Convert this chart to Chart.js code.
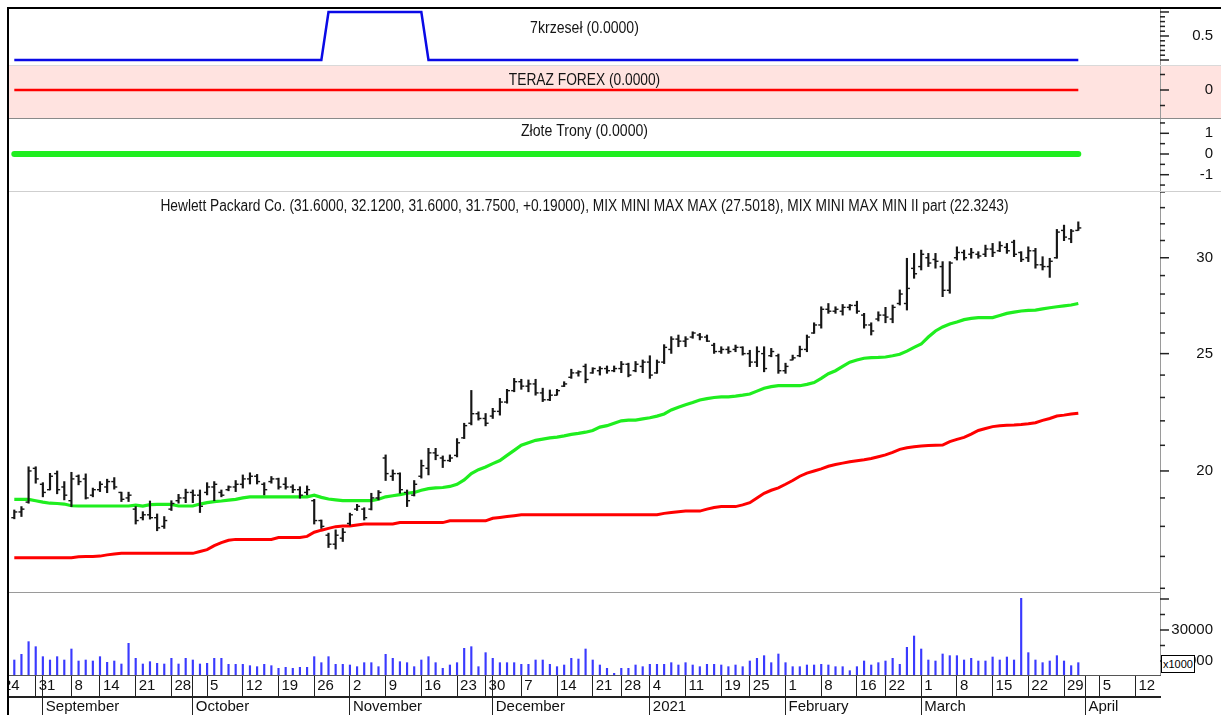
<!DOCTYPE html>
<html>
<head>
<meta charset="utf-8">
<script src="https://cdn.jsdelivr.net/npm/chart.js@4.4.1/dist/chart.umd.min.js"></script>
<style>
html,body{margin:0;padding:0;background:#fff;}
#wrap{position:relative;width:1221px;height:715px;overflow:hidden;background:#fff;font-family:"Liberation Sans",Arial,sans-serif;}
.pane{position:absolute;left:0;width:1221px;}
.pane canvas{display:block;}
.sep{position:absolute;height:1px;z-index:5;}
#pink{position:absolute;left:9px;top:65px;width:1212px;height:53px;background:#ffe3e0;}
#mask{position:absolute;left:0;top:0;width:7px;height:715px;background:#fff;z-index:6;}
#border{position:absolute;left:7px;top:7px;width:1214px;height:708px;border-top:2px solid #000;border-left:2px solid #000;box-sizing:border-box;z-index:7;pointer-events:none;}
#mult{position:absolute;left:1161px;top:655px;width:34px;height:18px;border:1px solid #000;background:#fff;font-size:11px;line-height:16px;text-align:center;box-sizing:border-box;z-index:8;color:#000;}
</style>
</head>
<body>
<div id="wrap">
  <div id="pink"></div>
  <div class="pane" style="top:8px;height:57px"><canvas id="c1" width="1221" height="57"></canvas></div>
  <div class="pane" style="top:65px;height:53px"><canvas id="c2" width="1221" height="53"></canvas></div>
  <div class="pane" style="top:118px;height:73px"><canvas id="c3" width="1221" height="73"></canvas></div>
  <div class="pane" style="top:191px;height:401px"><canvas id="c4" width="1221" height="401"></canvas></div>
  <div class="pane" style="top:592px;height:123px"><canvas id="c5" width="1221" height="123"></canvas></div>
  <div class="sep" style="left:9px;top:65px;width:1212px;background:#d9d9d9"></div>
  <div class="sep" style="left:9px;top:118px;width:1212px;background:#8a8a8a"></div>
  <div class="sep" style="left:9px;top:191px;width:1212px;background:#cfcfcf"></div>
  <div class="sep" style="left:9px;top:592px;width:1151px;background:#9a9a9a"></div>
  <div id="mult">x1000</div>
  <div id="mask"></div>
  <div id="border"></div>
</div>
<script>
// ---------------- DATA ----------------
// trading-day index k = 0 .. 149 (Aug 26 2020 .. Mar 31 2021)
const opens = [
18.3,18.5,18.85,20.1,19.5,19.3,19.9,19.4,18.9,19.8,
19.7,19.1,19.3,19.4,19.6,19.2,19.0,18.6,18.3,18.4,
18.3,18.0,18.6,18.9,19.0,19.2,19.1,19.2,19.4,19.2,
19.3,19.4,19.5,19.7,19.8,19.5,19.6,19.7,19.5,19.4,
19.3,19.2,18.9,18.2,17.7,17.4,17.6,18.1,18.6,18.6,
18.6,19.0,20.5,19.8,19.9,19.2,19.1,19.8,20.1,20.7,
20.5,20.4,20.6,21.3,21.9,22.3,22.1,22.2,22.4,22.8,
23.3,23.7,23.5,23.6,23.2,22.9,23.1,23.5,23.9,24.1,
24.4,24.1,24.2,24.3,24.2,24.3,24.5,24.2,24.4,24.6,
24.1,24.6,25.2,25.7,25.6,25.8,25.9,25.8,25.4,25.1,
25.2,25.2,25.3,25.0,24.6,25.0,24.9,24.9,24.2,24.7,
24.9,25.2,26.0,26.4,27.2,27.1,27.1,27.3,27.4,26.9,
26.4,26.7,26.9,26.7,27.5,27.5,29.4,29.5,30.0,29.9,
29.5,28.2,30.0,30.3,30.2,30.2,30.2,30.5,30.4,30.6,
30.9,30.3,30.0,30.4,29.6,29.5,30.0,31.6,31.1,31.6];
const highs = [
18.57,18.69,20.16,20.16,19.56,19.91,20.0,19.6,19.95,19.85,
19.89,19.36,19.6,19.69,19.75,19.21,19.21,18.69,18.51,18.89,
18.43,18.34,18.9,19.13,19.32,19.29,19.29,19.56,19.6,19.29,
19.44,19.64,19.85,19.93,19.87,19.56,19.79,19.73,19.75,19.48,
19.41,19.44,18.95,18.22,17.77,17.88,17.93,18.46,18.77,18.65,
19.17,19.27,20.62,20.04,19.93,19.29,19.64,20.42,20.88,20.88,
20.58,20.62,21.27,21.9,23.31,22.38,22.31,22.53,22.96,23.36,
23.85,23.81,23.78,23.81,23.41,23.33,23.36,23.7,24.27,24.2,
24.51,24.34,24.39,24.42,24.42,24.63,24.55,24.63,24.7,24.9,
24.7,25.43,25.82,25.9,25.82,26.06,25.98,25.9,25.5,25.33,
25.33,25.41,25.33,25.16,25.33,25.33,25.25,24.98,24.55,24.93,
25.36,25.9,26.51,27.33,27.5,27.33,27.45,27.45,27.62,26.99,
26.51,27.07,27.3,27.42,28.22,29.97,30.25,30.44,30.25,30.25,
29.78,29.78,30.63,30.44,30.54,30.35,30.73,30.83,30.93,30.83,
31.02,30.35,30.63,30.54,30.06,29.97,31.66,31.92,31.66,32.12];
const lows = [
18.26,18.34,18.81,19.54,19.04,19.29,19.15,18.93,18.69,19.48,
18.96,19.04,19.23,19.19,19.32,18.87,18.87,18.08,18.22,18.25,
17.85,17.93,18.55,18.81,18.83,18.83,18.48,19.11,18.9,19.04,
19.26,19.23,19.36,19.51,19.51,19.11,19.54,19.32,19.32,19.19,
18.99,19.11,18.08,17.93,17.29,17.24,17.49,18.04,18.55,18.22,
18.57,18.93,19.64,19.64,19.17,18.69,19.07,19.73,19.85,20.43,
20.13,20.36,20.54,21.27,21.83,22.03,21.79,22.1,22.24,22.75,
23.25,23.36,23.25,23.1,22.82,22.86,23.1,23.48,23.85,23.95,
23.65,24.08,24.0,24.08,24.15,24.11,23.92,24.15,24.11,23.85,
24.08,24.53,25.01,25.33,25.33,25.74,25.66,25.58,25.01,25.01,
25.01,25.09,24.93,24.39,24.39,24.15,24.85,24.08,24.08,24.7,
24.85,25.09,25.98,26.24,26.99,26.99,26.9,27.16,26.99,26.24,
25.9,26.6,26.51,26.51,27.42,27.16,28.85,29.31,29.5,29.41,
27.86,28.04,29.87,29.87,29.97,29.97,30.06,30.06,30.35,30.25,
30.06,29.78,29.78,29.41,29.31,28.9,29.97,30.99,30.87,31.6];
const closes = [
18.5,18.6,20.0,19.7,19.2,19.8,19.3,19.1,19.7,19.6,
19.0,19.3,19.5,19.6,19.4,18.95,19.1,18.2,18.4,18.3,
17.95,18.2,18.8,19.0,19.2,19.1,18.7,19.4,19.5,19.1,
19.4,19.5,19.7,19.8,19.6,19.3,19.7,19.4,19.4,19.3,
19.1,19.3,18.2,18.0,17.4,17.7,17.8,18.4,18.7,18.3,
19.0,19.2,19.9,19.9,19.3,18.9,19.5,20.2,20.7,20.6,
20.4,20.5,21.1,21.8,22.3,22.1,21.9,22.4,22.8,23.3,
23.7,23.5,23.6,23.2,22.9,23.1,23.3,23.6,24.1,24.15,
23.8,24.3,24.3,24.2,24.3,24.5,24.0,24.5,24.6,24.0,
24.6,25.3,25.7,25.6,25.7,26.0,25.8,25.6,25.1,25.2,
25.1,25.3,25.0,24.6,25.1,24.3,25.1,24.2,24.4,24.8,
25.2,25.8,26.4,27.2,27.1,27.2,27.3,27.4,27.1,26.4,
26.1,26.9,26.8,27.3,28.0,28.3,29.1,30.2,29.7,29.8,
28.2,29.7,30.3,30.0,30.3,30.1,30.5,30.3,30.7,30.4,
30.2,29.9,30.4,29.6,29.5,29.8,31.5,31.2,31.56,31.75];
// MIX MINI MAX MAX (green)
const mixMax = [
18.95,18.95,18.95,18.9,18.85,18.81,18.8,18.78,18.72,18.71,
18.71,18.71,18.71,18.71,18.71,18.71,18.71,18.74,18.71,18.76,
18.77,18.77,18.77,18.71,18.71,18.71,18.78,18.83,18.87,18.89,
18.92,18.95,19.0,19.04,19.04,19.04,19.04,19.04,19.04,19.04,
19.04,19.04,19.1,19.02,18.96,18.93,18.9,18.9,18.9,18.9,
18.9,18.95,19.04,19.08,19.12,19.17,19.2,19.28,19.34,19.37,
19.38,19.42,19.5,19.66,19.9,20.05,20.15,20.28,20.4,20.6,
20.8,21.0,21.1,21.2,21.25,21.3,21.33,21.38,21.44,21.48,
21.53,21.6,21.74,21.8,21.9,22.0,22.03,22.03,22.08,22.13,
22.2,22.29,22.46,22.58,22.68,22.78,22.89,22.95,23.0,23.03,
23.03,23.06,23.1,23.15,23.28,23.41,23.48,23.52,23.52,23.52,
23.52,23.58,23.66,23.85,24.06,24.2,24.4,24.6,24.7,24.78,
24.81,24.82,24.84,24.9,24.97,25.12,25.3,25.46,25.8,26.1,
26.3,26.45,26.55,26.67,26.73,26.77,26.77,26.77,26.88,26.99,
27.05,27.11,27.14,27.16,27.22,27.28,27.33,27.38,27.42,27.5018];
// MIX MINI MAX MIN II part (red)
const mixMin = [
16.96,16.96,16.96,16.96,16.96,16.96,16.96,16.96,16.96,16.99,
17.0,17.0,17.01,17.05,17.08,17.1,17.1,17.1,17.1,17.1,
17.1,17.1,17.1,17.1,17.1,17.1,17.16,17.22,17.35,17.45,
17.53,17.56,17.56,17.56,17.56,17.56,17.56,17.62,17.62,17.62,
17.62,17.66,17.8,17.87,17.93,17.99,18.01,18.01,18.05,18.08,
18.08,18.08,18.08,18.08,18.13,18.13,18.13,18.13,18.13,18.13,
18.13,18.19,18.19,18.19,18.19,18.19,18.19,18.28,18.31,18.34,
18.37,18.4,18.4,18.4,18.4,18.4,18.4,18.4,18.4,18.4,
18.4,18.4,18.4,18.4,18.4,18.4,18.4,18.4,18.4,18.4,
18.4,18.45,18.48,18.51,18.53,18.53,18.53,18.6,18.66,18.69,
18.69,18.69,18.75,18.83,19.0,19.17,19.28,19.37,19.5,19.64,
19.8,19.92,20.0,20.08,20.18,20.25,20.3,20.35,20.39,20.43,
20.48,20.55,20.62,20.72,20.84,20.9,20.94,20.97,20.99,21.0,
21.01,21.15,21.24,21.32,21.45,21.6,21.68,21.76,21.8,21.82,
21.83,21.85,21.88,21.92,22.02,22.1,22.2,22.24,22.29,22.3243];
// volume (x1000)
const volumes = [
20320,22150,26240,24620,21400,20320,21400,20320,23870,20000,
20320,20000,21400,19570,20000,19030,25700,20860,19030,19780,
19250,19030,20860,19030,20860,20320,19030,19250,20860,20860,
18920,18920,18920,18490,18170,18920,18490,17630,17960,17630,
17960,17960,21400,19460,21400,18920,18920,18710,18170,19460,
19460,18170,22150,20860,19780,19460,18170,20320,21400,19460,
17630,18710,19460,24090,24620,18170,22690,20860,19460,19460,
19460,18920,18920,20320,20320,18920,18170,18710,20860,20640,
23870,20320,18710,17630,16020,17630,17630,18710,18170,18920,
18920,18920,19460,18710,19460,18710,18170,18920,18920,18710,
18170,18710,18170,20000,20860,21720,19460,22260,19460,18170,
18170,18710,18710,18920,18710,18170,18170,16880,18170,20000,
18710,19460,20000,20860,18920,24410,28060,23870,20320,20000,
22260,21720,21720,20320,20860,20000,20000,21290,20320,21290,
20320,40220,22690,20320,19460,20000,21720,20000,18490,19460];
// 7krzeseł signal
const krzesla = [
0,0,0,0,0,0,0,0,0,0,0,0,0,0,0,0,0,0,0,0,0,0,0,0,0,
0,0,0,0,0,0,0,0,0,0,0,0,0,0,0,0,0,0,0,1,1,1,1,1,1,
1,1,1,1,1,1,1,1,0,0,0,0,0,0,0,0,0,0,0,0,0,0,0,0,0,
0,0,0,0,0,0,0,0,0,0,0,0,0,0,0,0,0,0,0,0,0,0,0,0,0,
0,0,0,0,0,0,0,0,0,0,0,0,0,0,0,0,0,0,0,0,0,0,0,0,0,
0,0,0,0,0,0,0,0,0,0,0,0,0,0,0,0,0,0,0,0,0,0,0,0,0];
// TERAZ FOREX signal
const terazForex = [
0,0,0,0,0,0,0,0,0,0,0,0,0,0,0,0,0,0,0,0,0,0,0,0,0,
0,0,0,0,0,0,0,0,0,0,0,0,0,0,0,0,0,0,0,0,0,0,0,0,0,
0,0,0,0,0,0,0,0,0,0,0,0,0,0,0,0,0,0,0,0,0,0,0,0,0,
0,0,0,0,0,0,0,0,0,0,0,0,0,0,0,0,0,0,0,0,0,0,0,0,0,
0,0,0,0,0,0,0,0,0,0,0,0,0,0,0,0,0,0,0,0,0,0,0,0,0,
0,0,0,0,0,0,0,0,0,0,0,0,0,0,0,0,0,0,0,0,0,0,0,0,0];
// Złote Trony signal
const zloteTrony = [
0,0,0,0,0,0,0,0,0,0,0,0,0,0,0,0,0,0,0,0,0,0,0,0,0,
0,0,0,0,0,0,0,0,0,0,0,0,0,0,0,0,0,0,0,0,0,0,0,0,0,
0,0,0,0,0,0,0,0,0,0,0,0,0,0,0,0,0,0,0,0,0,0,0,0,0,
0,0,0,0,0,0,0,0,0,0,0,0,0,0,0,0,0,0,0,0,0,0,0,0,0,
0,0,0,0,0,0,0,0,0,0,0,0,0,0,0,0,0,0,0,0,0,0,0,0,0,
0,0,0,0,0,0,0,0,0,0,0,0,0,0,0,0,0,0,0,0,0,0,0,0,0];
// x-axis: week starts (trading-day index) and labels
const weekTickIdx = [-2,3,8,12,17,22,27,32,37,42,47,52,57,62,66,71,76,81,85,89,94,99,103,108,113,118,122,127,132,137,142,147,152,157];
const weekTickLabels = ['24','31','8','14','21','28','5','12','19','26','2','9','16','23','30','7','14','21','28','4','11','19','25','1','8','16','22','1','8','15','22','29','5','12'];
const monthTickIdx = [4,25,47,67,89,108,127,150];
const monthTickLabels = ['September','October','November','December','2021','February','March','April'];
// right-axis ticks
const sigTicks = [0,0.1,0.2,0.3,0.4,0.5,0.6,0.7,0.8,0.9,1];
const sigMajor = [0,0.5,1];
const sigLabels = [0.5];
const forexTicks = [-1,0,1];
const forexMajor = [0];
const forexLabels = [0];
const troneTicks = [-1.5,-1,-0.5,0,0.5,1,1.5];
const troneMajor = [-1,0,1];
const troneLabels = [-1,0,1];
const priceTicks = [16,17,18,19,20,21,22,23,24,25,26,27,28,29,30,31,32,33,34];
const priceMajor = [20,25,30];
const priceLabels = [20,25,30];
const volTicks = [20000,25000,30000,35000,40000];
const volMajor = [20000,30000,40000];
const volLabels = [20000,30000];

// ---------------- SETUP ----------------
const FONT = '"Liberation Sans", Arial, sans-serif';
Chart.defaults.font.family = FONT;
Chart.defaults.color = '#111';
const X_MIN = -0.742, X_MAX = 160.44;
const N = closes.length;
const kIdx = closes.map((_, k) => k);
const last = N - 1;

const mctx = document.createElement('canvas').getContext('2d');
mctx.font = '15px ' + FONT;
function padFor(labels){ let w = 0; labels.forEach(l => { w = Math.max(w, mctx.measureText(String(l)).width); }); return 52 - w; }

const rightAxis = {
  id: 'rightAxis',
  afterDraw(chart) {
    const s = chart.scales.y, a = chart.chartArea, ctx = chart.ctx;
    ctx.save();
    ctx.strokeStyle = '#9a9a9a'; ctx.lineWidth = 1;
    ctx.beginPath(); ctx.moveTo(a.right + 0.5, a.top); ctx.lineTo(a.right + 0.5, a.bottom); ctx.stroke();
    ctx.strokeStyle = '#222'; ctx.lineWidth = 1.5;
    for (const t of s.ticks) {
      const y = s.getPixelForValue(t.value);
      const len = t.major ? 9 : 5;
      ctx.beginPath(); ctx.moveTo(a.right, y); ctx.lineTo(a.right + len, y); ctx.stroke();
    }
    ctx.restore();
  }
};
const panelTitle = {
  id: 'panelTitle',
  afterDraw(chart, args, opts) {
    if (!opts || !opts.text) return;
    const a = chart.chartArea, ctx = chart.ctx;
    ctx.save();
    ctx.font = '16px ' + FONT;
    ctx.fillStyle = '#141414';
    ctx.textAlign = 'center'; ctx.textBaseline = 'middle';
    ctx.translate((a.left + a.right) / 2, opts.y);
    ctx.scale(opts.sx, 1);
    ctx.fillText(opts.text, 0, 0);
    ctx.restore();
  }
};

function yAxis(type, min, max, tickVals, majorVals, labelVals, fmt) {
  return {
    type, min, max, position: 'right', bounds: 'data',
    grid: { display: false, drawTicks: false },
    border: { display: false },
    afterBuildTicks: s => { s.ticks = tickVals.map(v => ({ value: v, major: majorVals.includes(v) })); },
    afterFit: s => { s.width = 53; s.paddingTop = 0; s.paddingBottom = 0; },
    ticks: {
      autoSkip: false, crossAlign: 'far', padding: padFor(labelVals.map(fmt)),
      color: '#111', font: { family: FONT, size: 15 },
      callback: v => labelVals.includes(v) ? fmt(v) : ''
    }
  };
}
const hiddenX = { type: 'linear', min: X_MIN, max: X_MAX, display: false, bounds: 'data', offset: false, grid: { offset: false } };
function baseOpts(y, title, extraScales) {
  return {
    responsive: false, animation: false, devicePixelRatio: 1, events: [],
    layout: { autoPadding: false, padding: { left: 9, right: 8, top: 0, bottom: 0 } },
    plugins: { legend: { display: false }, tooltip: { enabled: false }, panelTitle: title },
    scales: Object.assign({ x: hiddenX, y: y }, extraScales || {})
  };
}
function lineDs(values, color, width, extra) {
  return Object.assign({ type: 'line', data: values.map((v, k) => ({ x: kIdx[k], y: v })), borderColor: color, borderWidth: width,
    pointRadius: 0, tension: 0, fill: false }, extra || {});
}
const f4 = v => v.toFixed(4);

// Panel 1: 7krzeseł
new Chart(document.getElementById('c1'), {
  type: 'line',
  data: { datasets: [ lineDs(krzesla, '#0a0ae6', 2.5) ] },
  options: baseOpts(yAxis('linear', -0.104, 1.083, sigTicks, sigMajor, sigLabels, v => String(v)),
    { text: '7krzeseł (' + f4(krzesla[last]) + ')', y: 21, sx: 0.88 }),
  plugins: [rightAxis, panelTitle]
});
// Panel 2: TERAZ FOREX
new Chart(document.getElementById('c2'), {
  type: 'line',
  data: { datasets: [ lineDs(terazForex, '#ff0000', 2.5) ] },
  options: baseOpts(yAxis('linear', -1.806, 1.613, forexTicks, forexMajor, forexLabels, v => String(v)),
    { text: 'TERAZ FOREX (' + f4(terazForex[last]) + ')', y: 15.5, sx: 0.86 }),
  plugins: [rightAxis, panelTitle]
});
// Panel 3: Złote Trony
new Chart(document.getElementById('c3'), {
  type: 'line',
  data: { datasets: [ lineDs(zloteTrony, '#1fee1f', 6, { borderCapStyle: 'round' }) ] },
  options: baseOpts(yAxis('linear', -1.787, 1.739, troneTicks, troneMajor, troneLabels, v => String(v)),
    { text: 'Złote Trony (' + f4(zloteTrony[last]) + ')', y: 14, sx: 0.88 }),
  plugins: [rightAxis, panelTitle]
});
// Panel 4: price (log scale)
const chg = closes[last] - closes[last - 1];
const priceTitle = 'Hewlett Packard Co. (' + f4(opens[last]) + ', ' + f4(highs[last]) + ', ' + f4(lows[last]) + ', ' + f4(closes[last]) + ', ' +
  (chg >= 0 ? '+' : '') + chg.toFixed(5) + '), MIX MINI MAX MAX (' + f4(mixMax[last]) + '), MIX MINI MAX MIN II part (' + f4(mixMin[last]) + ')';
new Chart(document.getElementById('c4'), {
  type: 'bar',
  data: { datasets: [
    { type: 'bar', data: kIdx.map(k => ({ x: k, y: [lows[k], highs[k]] })), backgroundColor: '#161616', barThickness: 1.5, borderWidth: 0, order: 1 },
    { type: 'line', data: kIdx.map(k => ({ x: k, y: opens[k] })), showLine: false, pointStyle: 'dash', pointRotation: 180, pointRadius: 3,
      pointBorderColor: '#161616', pointBorderWidth: 1.4, pointBackgroundColor: '#161616', order: 0 },
    { type: 'line', data: kIdx.map(k => ({ x: k, y: closes[k] })), showLine: false, pointStyle: 'dash', pointRotation: 0, pointRadius: 3,
      pointBorderColor: '#161616', pointBorderWidth: 1.4, pointBackgroundColor: '#161616', order: 0 },
    lineDs(mixMax, '#1fee1f', 3.2, { order: 2 }),
    lineDs(mixMin, '#ff0000', 3, { order: 2 })
  ] },
  options: baseOpts(yAxis('logarithmic', 15.888, 34.06, priceTicks, priceMajor, priceLabels, v => String(v)),
    { text: priceTitle, y: 16, sx: 0.858 }),
  plugins: [rightAxis, panelTitle]
});
// Panel 5: volume + date axes
const dayTicks = Array.from(new Set(weekTickIdx.concat(monthTickIdx))).sort((a, b) => a - b);
function dayLabel(v) { const i = weekTickIdx.indexOf(v); return i >= 0 ? weekTickLabels[i] : ''; }
function monthLabel(v) { const i = monthTickIdx.indexOf(v); return i >= 0 ? monthTickLabels[i] : ''; }
const volOpts = baseOpts(yAxis('linear', 15484, 42258, volTicks, volMajor, volLabels, v => String(v)), null, {
  x: {
    type: 'linear', min: X_MIN, max: X_MAX, position: 'bottom', weight: 0, bounds: 'data', offset: false,
    afterBuildTicks: s => { s.ticks = dayTicks.map(v => ({ value: v })); },
    afterFit: s => { s.height = 22; s.paddingLeft = 0; s.paddingRight = 0; },
    grid: { display: true, offset: false, drawOnChartArea: false, drawTicks: true, tickLength: 22, color: '#222', lineWidth: 1 },
    border: { display: true, color: '#555', width: 1 },
    ticks: { autoSkip: false, maxRotation: 0, minRotation: 0, align: 'start', labelOffset: 3, padding: -20,
      color: '#111', font: { family: FONT, size: 15 }, callback: v => dayLabel(v) }
  },
  x2: {
    type: 'linear', min: X_MIN, max: X_MAX, position: 'bottom', weight: 1, bounds: 'data', offset: false,
    afterBuildTicks: s => { s.ticks = monthTickIdx.map(v => ({ value: v })); },
    afterFit: s => { s.height = 18; s.paddingLeft = 0; s.paddingRight = 0; },
    grid: { display: true, offset: false, drawOnChartArea: false, drawTicks: true, tickLength: 18, color: '#222', lineWidth: 1 },
    border: { display: true, color: '#222', width: 2 },
    ticks: { autoSkip: false, maxRotation: 0, minRotation: 0, align: 'start', labelOffset: 3, padding: -17,
      color: '#111', font: { family: FONT, size: 15 }, callback: v => monthLabel(v) }
  }
});
new Chart(document.getElementById('c5'), {
  type: 'bar',
  data: { datasets: [
    { type: 'bar', data: kIdx.map(k => ({ x: k, y: volumes[k] })), backgroundColor: '#3a3aff', barThickness: 1.5, borderWidth: 0, xAxisID: 'x' }
  ] },
  options: volOpts,
  plugins: [rightAxis, panelTitle]
});
</script>
</body>
</html>
